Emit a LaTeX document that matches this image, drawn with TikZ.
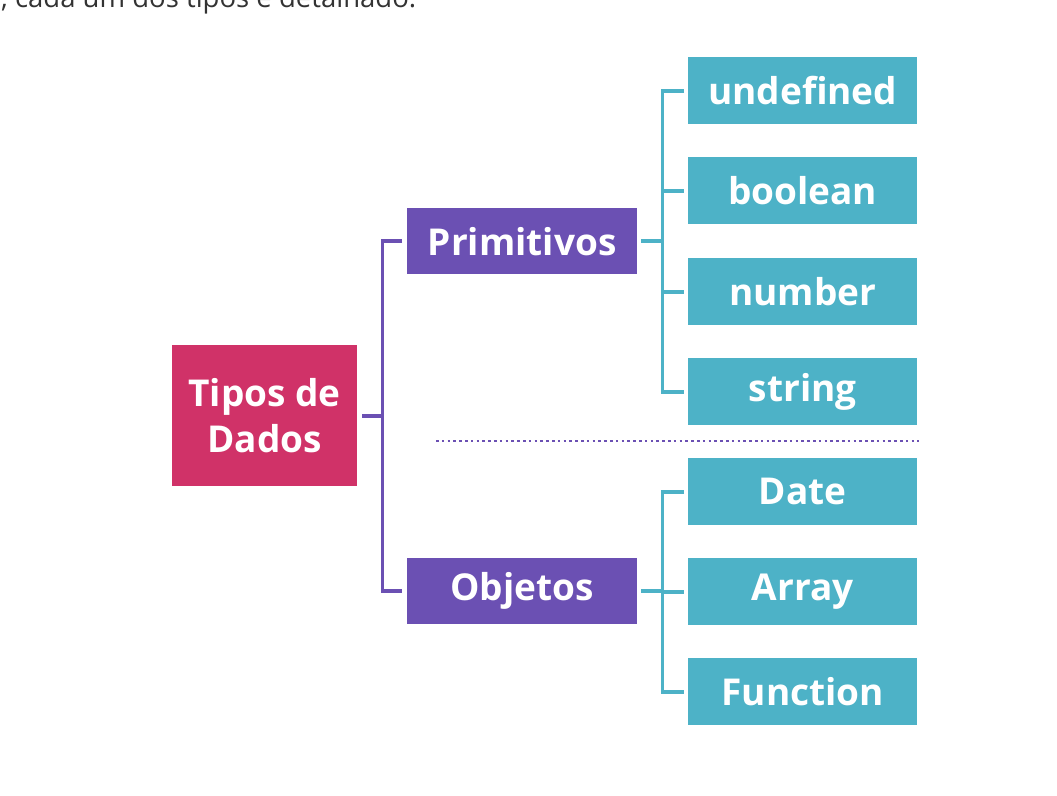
\documentclass[tikz,border=0pt]{standalone}
\usepackage{fontspec}
\setmainfont{Open Sans}
\definecolor{cpink}{HTML}{D03268}
\definecolor{cpurple}{HTML}{6B50B3}
\definecolor{cteal}{HTML}{4DB2C7}
\definecolor{ctext}{HTML}{333333}
\begin{document}
\begin{tikzpicture}[x=1pt,y=-1pt,
  boxbase/.style={anchor=north west, inner sep=0pt, text=white, font=\bfseries\fontsize{37}{46}\selectfont, align=center},
  rootbox/.style={boxbase, fill=cpink, minimum width=185pt, minimum height=141pt},
  midbox/.style={boxbase, fill=cpurple, minimum width=230pt, minimum height=66pt},
  leafbox/.style={boxbase, fill=cteal, minimum width=229pt, minimum height=67pt},
  pline/.style={draw=cpurple, line width=3.6pt},
  tline/.style={draw=cteal, line width=3.6pt},
  sepline/.style={draw=cpurple, line width=2.8pt, dash pattern=on 2.6pt off 3.2pt}]
\useasboundingbox (0,0) rectangle (1057,795);
\clip (0,0) rectangle (1057,795);
\node[anchor=base west, inner sep=0pt, text=ctext, font=\fontsize{27.5}{30}\selectfont] (intro) at (1,7) {, cada um dos tipos é detalhado.};
\node[rootbox] (tipos) at (172,345) {Tipos de\\Dados};
\node[midbox] (prim) at (407,208) {Primitivos};
\node[midbox] (obj) at (407,558) {Objetos};
\node[leafbox] (undef) at (688,57) {undefined};
\node[leafbox] (bool) at (688,157) {boolean};
\node[leafbox] (num) at (688,258) {number};
\node[leafbox] (str) at (688,358) {string};
\node[leafbox] (date) at (688,458) {Date};
\node[leafbox] (arr) at (688,558) {Array};
\node[leafbox] (func) at (688,658) {Function};
% purple bracket
\coordinate (pj) at ([xshift=25pt]tipos.east);
\draw[pline] ([xshift=5pt]tipos.east) -- (pj);
\draw[pline] ([xshift=-5pt]prim.west) -| (pj) |- ([xshift=-5pt]obj.west);
% teal bracket primitives
\coordinate (tj) at ([xshift=25pt]prim.east);
\draw[tline] ([xshift=4pt]prim.east) -- (tj);
\draw[tline] ([xshift=-4pt]undef.west) -| (tj |- str.west) -- ([xshift=-4pt]str.west);
\draw[tline] (tj |- bool.west) -- ([xshift=-4pt]bool.west);
\draw[tline] (tj |- num.west) -- ([xshift=-4pt]num.west);
% teal bracket objects
\coordinate (oj) at ([xshift=25pt]obj.east);
\draw[tline] ([xshift=4pt]obj.east) -- (oj);
\draw[tline] ([xshift=-4pt]date.west) -| (oj |- func.west) -- ([xshift=-4pt]func.west);
\draw[tline] (oj |- arr.west) -- ([xshift=-4pt]arr.west);
% separator
\draw[sepline] (436,441) -- (919,441);
\end{tikzpicture}
\end{document}
